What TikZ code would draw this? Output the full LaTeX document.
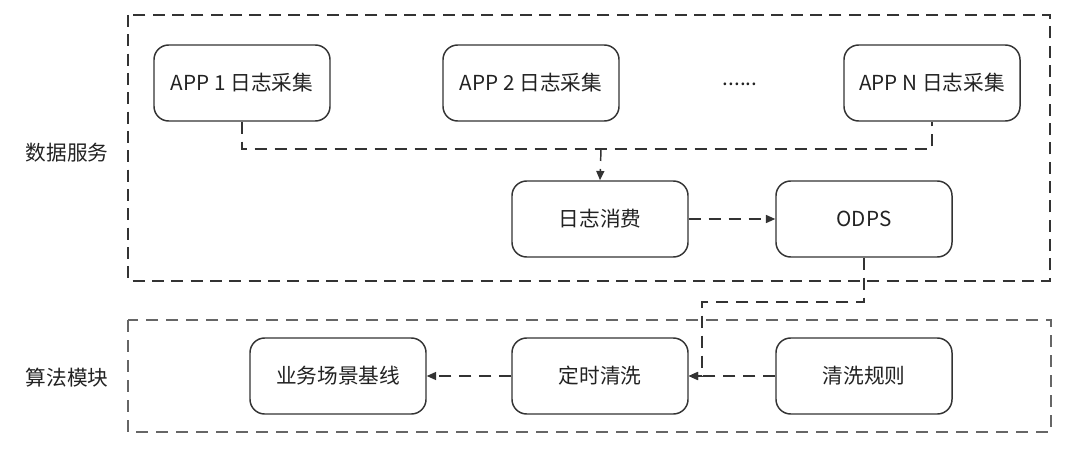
\documentclass[tikz,border=0pt]{standalone}
\usepackage{fontspec}
\setmainfont{Noto Sans CJK SC}
\usetikzlibrary{arrows.meta}
\definecolor{ln}{HTML}{333333}
\definecolor{tx}{HTML}{222222}
\definecolor{gl}{HTML}{666666}
\begin{document}
\begin{tikzpicture}[x=0.75pt,y=-0.75pt,
  box/.style={draw=ln,line width=1.1pt,rounded corners=11pt,minimum width=132pt,minimum height=57pt,inner sep=0pt,text=tx,font=\fontsize{15.5}{18}\selectfont},
  lbl/.style={text=tx,font=\fontsize{15.5}{18}\selectfont},
  conn/.style={draw=ln,line width=1.1pt,dash pattern=on 9pt off 6pt},
  arr/.style={conn,-{Triangle[length=7pt,width=6pt]}}]
\useasboundingbox (0,0) rectangle (1080,456);
% group frames
\draw[draw=ln,line width=1.2pt,dash pattern=on 9pt off 5.5pt] (128,15) rectangle (1050,281);
\draw[draw=gl,line width=0.8pt,dash pattern=on 9pt off 6pt] (128,320) rectangle (1051,432);
\node[lbl] (g1) at (67,153) {数据服务};
\node[lbl] (g2) at (67,378) {算法模块};
% nodes
\node[box] (a1) at (242,83) {APP 1 日志采集};
\node[box] (a2) at (531,83) {APP 2 日志采集};
\node[lbl] (dots) at (740,84) {......};
\node[box] (an) at (932,83) {APP N 日志采集};
\node[box] (xf) at (600,219) {日志消费};
\node[box] (od) at (864,219) {ODPS};
\node[box] (ds) at (600,376) {定时清洗};
\node[box] (gz) at (864,376) {清洗规则};
\node[box] (jx) at (338,376) {业务场景基线};
\coordinate (jn) at (601,149);
% connectors
\draw[conn] (a1.south) -- (242,149) -- (932,149) -- (an.south);
\draw[arr] (jn) -- (xf.north);
\draw[arr] (xf.east) -- (od.west);
\draw[arr] (od.south) -- (864,302) -- (702,302) -- (702,376) -- (ds.east);
\draw[arr] (gz.west) -- (ds.east);
\draw[arr] (ds.west) -- (jx.east);
\end{tikzpicture}
\end{document}
